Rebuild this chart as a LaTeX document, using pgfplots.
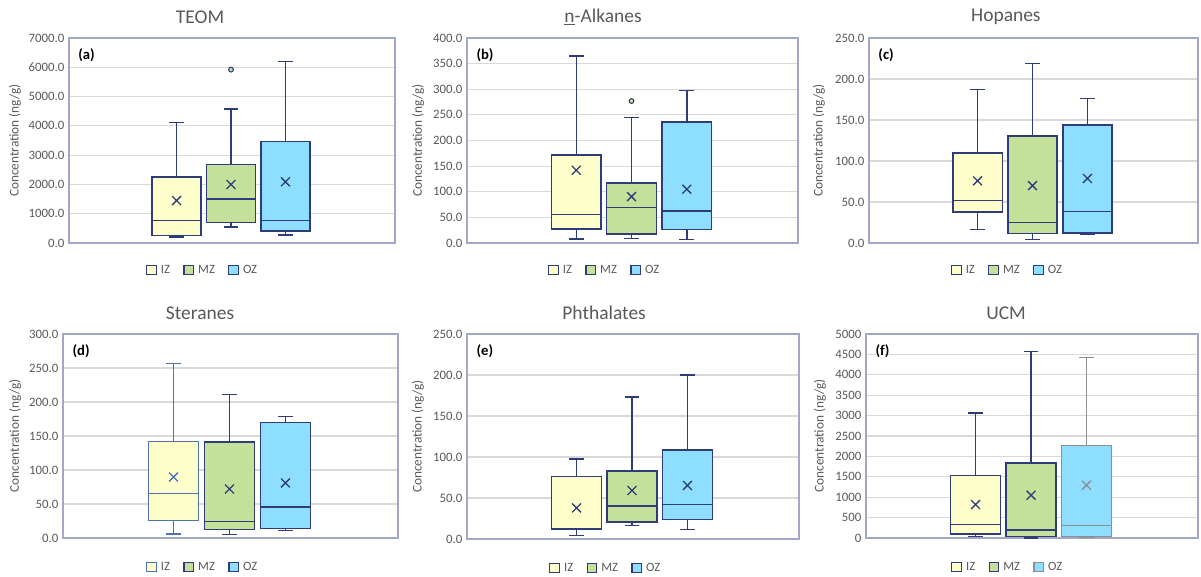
\documentclass[border=0pt]{standalone}
\usepackage{pgfplots}
\pgfplotsset{compat=1.18}
\usepackage{fontspec}
\setmainfont{Carlito}
\definecolor{navy}{HTML}{2E3D78}
\definecolor{izfill}{HTML}{FFFFCC}
\definecolor{mzfill}{HTML}{C5E09B}
\definecolor{ozfill}{HTML}{8EDFFF}
\definecolor{framec}{HTML}{A3A8C9}
\definecolor{gridc}{HTML}{D9D9D9}
\definecolor{tickc}{HTML}{595959}
\definecolor{dlight}{HTML}{4F72B0}
\definecolor{fgray}{HTML}{8F8F8F}

% #1 centre, #2 left, #3 right, #4 lower whisker, #5 Q1, #6 median, #7 Q3, #8 upper whisker, #9 style
\newcommand{\gbox}[9]{%
  \addplot[forget plot, #9, fill=none, line width=1.1pt, mark=-, mark size=5.6pt,
    mark options={line width=1.1pt}] coordinates {(#1,#4) (#1,#5)};
  \addplot[forget plot, #9, fill=none, line width=1.1pt, mark=-, mark size=5.6pt,
    mark options={line width=1.1pt}] coordinates {(#1,#7) (#1,#8)};
  \addplot[forget plot, #9, line width=1.1pt] coordinates {(#2,#5) (#3,#5) (#3,#7) (#2,#7)} -- cycle;
  \addplot[forget plot, #9, fill=none, line width=1.1pt] coordinates {(#2,#6) (#3,#6)};}
\newcommand{\bxA}[6]{\gbox{0.33}{0.255}{0.405}{#1}{#2}{#3}{#4}{#5}{#6}}
\newcommand{\bxB}[6]{\gbox{0.497}{0.422}{0.572}{#1}{#2}{#3}{#4}{#5}{#6}}
\newcommand{\bxC}[6]{\gbox{0.664}{0.589}{0.739}{#1}{#2}{#3}{#4}{#5}{#6}}
\newcommand{\mymean}[3]{%
  \addplot[forget plot, only marks, mark=x, mark size=4.7pt, color=#3, mark options={line width=1pt}]
    coordinates {(#1,#2)};}
\newcommand{\myout}[4]{%
  \addplot[forget plot, only marks, mark=*, mark size=1.8pt,
    mark options={draw=#4, fill=#3, line width=0.8pt}] coordinates {(#1,#2)};}

\tikzset{plabel/.style={anchor=north west, inner sep=0pt, font=\fontsize{11}{13}\selectfont\bfseries}}
\pgfplotsset{
  izs/.style={draw=navy, fill=izfill},
  mzs/.style={draw=navy, fill=mzfill},
  ozs/.style={draw=navy, fill=ozfill},
  izd/.style={draw=dlight, fill=izfill},
  ozg/.style={draw=fgray, fill=ozfill},
  legend image code/.code={\draw[#1, line width=0.9pt] (0pt,-3.6pt) rectangle (7.2pt,3.6pt);},
  panel/.style={
    scale only axis, anchor=north west,
    xmin=0, xmax=1, xtick=\empty, ymin=0,
    ymajorgrids, grid style={draw=gridc, line width=0.8pt},
    axis line style={draw=framec, line width=1pt},
    tick style={draw=none},
    tick label style={font=\fontsize{9.6}{11}\selectfont, text=tickc},
    /pgf/number format/assume math mode=true,
    ylabel={Concentration (ng/g)},
    ylabel style={font=\fontsize{10}{12}\selectfont, text=tickc},
    title style={font=\fontsize{14.6}{17}\selectfont, text=tickc, anchor=center, yshift=9.75pt},
    legend style={draw=none, fill=none, legend columns=3, anchor=center,
      font=\fontsize{9.5}{11}\selectfont, text=tickc,
      /tikz/every odd column/.append style={column sep=1pt},
      /tikz/every even column/.append style={column sep=8pt}},
  },
  onedec/.style={yticklabel style={/pgf/number format/.cd, fixed, fixed zerofill, precision=1, 1000 sep={}}},
}

\begin{document}
\begin{tikzpicture}
\useasboundingbox (0,0) rectangle (900.75pt,432pt);

% (a) TEOM
\begin{axis}[panel, onedec, at={(51.75pt,403.5pt)}, width=244.5pt, height=153.75pt,
  ymax=7000, ytick distance=1000, title={TEOM},
  title style={at={(axis description cs:0.402,1)}},
  ylabel style={at={(axis description cs:-0.166,0.5)}, anchor=center},
  legend style={at={(axis description cs:0.411,0)}, yshift=-20.25pt}]
\addlegendimage{izs}\addlegendentry{IZ}
\addlegendimage{mzs}\addlegendentry{MZ}
\addlegendimage{ozs}\addlegendentry{OZ}
\bxA{200}{251}{776}{2250}{4111}{izs}
\bxB{548}{697}{1507}{2684}{4568}{mzs}
\bxC{274}{411}{765}{3460}{6200}{ozs}
\mymean{0.33}{1450}{navy}
\mymean{0.497}{1998}{navy}
\mymean{0.664}{2090}{navy}
\myout{0.497}{5920}{mzfill}{navy}
\node[plabel] at (rel axis cs:0.028,0.95) {(a)};
\end{axis}

% (b) n-Alkanes
\begin{axis}[panel, onedec, at={(350.25pt,403.5pt)}, width=248.25pt, height=153.75pt,
  ymax=400, ytick distance=50, title={\underline{n}-Alkanes},
  title style={at={(axis description cs:0.411,1)}},
  ylabel style={at={(axis description cs:-0.148,0.5)}, anchor=center},
  legend style={at={(axis description cs:0.417,0)}, yshift=-20.25pt}]
\addlegendimage{izs}\addlegendentry{IZ}
\addlegendimage{mzs}\addlegendentry{MZ}
\addlegendimage{ozs}\addlegendentry{OZ}
\bxA{8}{27.5}{56}{172}{365}{izs}
\bxB{9}{18}{69.5}{117}{245}{mzs}
\bxC{6.5}{26}{62}{236}{298}{ozs}
\mymean{0.33}{142}{navy}
\mymean{0.497}{90.5}{navy}
\mymean{0.664}{105}{navy}
\myout{0.497}{277}{mzfill}{navy}
\node[plabel] at (rel axis cs:0.028,0.95) {(b)};
\end{axis}

% (c) Hopanes
\begin{axis}[panel, onedec, at={(651.75pt,403.5pt)}, width=246.75pt, height=153.75pt,
  ymax=250, ytick distance=50, title={Hopanes},
  title style={at={(axis description cs:0.416,1)}},
  ylabel style={at={(axis description cs:-0.152,0.5)}, anchor=center},
  legend style={at={(axis description cs:0.422,0)}, yshift=-20.25pt}]
\addlegendimage{izs}\addlegendentry{IZ}
\addlegendimage{mzs}\addlegendentry{MZ}
\addlegendimage{ozs}\addlegendentry{OZ}
\bxA{16.4}{37.7}{52}{109.5}{187}{izs}
\bxB{4.5}{11.5}{25}{130.7}{219}{mzs}
\bxC{10.2}{12}{38.5}{144}{176}{ozs}
\mymean{0.33}{75.8}{navy}
\mymean{0.497}{70}{navy}
\mymean{0.664}{78.7}{navy}
\node[plabel] at (rel axis cs:0.028,0.95) {(c)};
\end{axis}

% (d) Steranes
\begin{axis}[panel, onedec, at={(47.25pt,181.5pt)}, width=251.25pt, height=153pt,
  ymax=300, ytick distance=50, title={Steranes},
  title style={at={(axis description cs:0.409,1)}},
  ylabel style={at={(axis description cs:-0.143,0.5)}, anchor=center},
  legend style={at={(axis description cs:0.418,0)}, yshift=-21.75pt}]
\addlegendimage{izd}\addlegendentry{IZ}
\addlegendimage{mzs}\addlegendentry{MZ}
\addlegendimage{ozs}\addlegendentry{OZ}
\bxA{5.9}{25.5}{65.2}{141.7}{257}{izd}
\bxB{4.9}{12.7}{24}{141}{211}{mzs}
\bxC{10.8}{13.7}{45.6}{170}{179}{ozs}
\mymean{0.33}{89.7}{dlight}
\mymean{0.497}{72}{navy}
\mymean{0.664}{81}{navy}
\node[plabel] at (rel axis cs:0.028,0.95) {(d)};
\end{axis}

% (e) Phthalates
\begin{axis}[panel, onedec, at={(350.25pt,181.5pt)}, width=249pt, height=153.75pt,
  ymax=250, ytick distance=50, title={Phthalates},
  title style={at={(axis description cs:0.413,1)}},
  ylabel style={at={(axis description cs:-0.148,0.5)}, anchor=center},
  legend style={at={(axis description cs:0.419,0)}, yshift=-21.75pt}]
\addlegendimage{izs}\addlegendentry{IZ}
\addlegendimage{mzs}\addlegendentry{MZ}
\addlegendimage{ozs}\addlegendentry{OZ}
\bxA{4.5}{11.8}{12.6}{76.3}{97.5}{izs}
\bxB{16.7}{20.8}{40.4}{82.8}{173.3}{mzs}
\bxC{11.8}{23.7}{42.4}{108.5}{200.2}{ozs}
\mymean{0.33}{37.9}{navy}
\mymean{0.497}{59.1}{navy}
\mymean{0.664}{65.3}{navy}
\node[plabel] at (rel axis cs:0.028,0.95) {(e)};
\end{axis}

% (f) UCM
\begin{axis}[panel, at={(649.5pt,181.5pt)}, width=249pt, height=153pt,
  ymax=5000, ytick distance=500, title={UCM},
  yticklabel style={/pgf/number format/.cd, fixed, precision=0, 1000 sep={}},
  title style={at={(axis description cs:0.422,1)}},
  ylabel style={at={(axis description cs:-0.139,0.5)}, anchor=center},
  legend style={at={(axis description cs:0.428,0)}, yshift=-21.75pt}]
\addlegendimage{izs}\addlegendentry{IZ}
\addlegendimage{mzs}\addlegendentry{MZ}
\addlegendimage{ozg}\addlegendentry{OZ}
\bxA{33}{98}{328}{1533}{3066}{izs}
\bxB{5}{33}{197}{1844}{4566}{mzs}
\bxC{25}{41}{311}{2270}{4426}{ozg}
\mymean{0.33}{820}{navy}
\mymean{0.497}{1049}{navy}
\mymean{0.664}{1295}{fgray}
\node[plabel] at (rel axis cs:0.028,0.95) {(f)};
\end{axis}
\end{tikzpicture}
\end{document}
